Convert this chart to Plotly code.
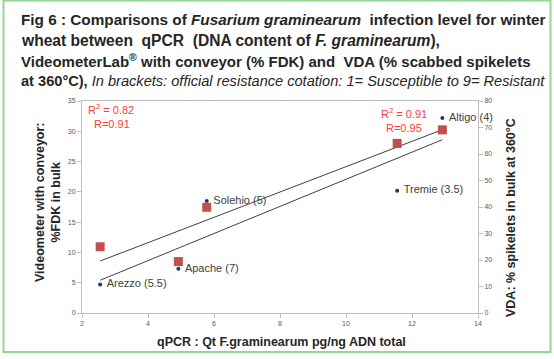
import numpy as np
import plotly.graph_objects as go

# ---- data ----
varieties = ["Arezzo (5.5)", "Apache (7)", "Solehio (5)", "Tremie (3.5)", "Altigo (4)"]
qpcr = [2.55, 4.92, 5.78, 11.55, 12.92]
fdk_videometer = [4.7, 7.3, 18.5, 20.2, 32.2]
vda_spikelets = [25.0, 19.4, 39.9, 64.0, 69.1]

x_ticks = [2, 4, 6, 8, 10, 12, 14]
y1_ticks = [0, 5, 10, 15, 20, 25, 30, 35]
y2_ticks = [0, 10, 20, 30, 40, 50, 60, 70, 80]

W, H = 554, 359
L, R, T, B = 82, 478, 101, 313


def px(x):
    return (x - L) / (R - L)


def py(y):
    return (B - y) / (B - T)


FONT = "Liberation Sans, Arial, sans-serif"
fig = go.Figure()

# trendlines from linear fits
xs = np.array([min(qpcr), max(qpcr)])
b1 = np.polyfit(qpcr, fdk_videometer, 1)
b2 = np.polyfit(qpcr, vda_spikelets, 1)
fig.add_trace(go.Scatter(x=xs, y=np.polyval(b1, xs), mode="lines",
                         line=dict(color="#404040", width=1), yaxis="y", hoverinfo="skip"))
fig.add_trace(go.Scatter(x=xs, y=np.polyval(b2, xs), mode="lines",
                         line=dict(color="#404040", width=1), yaxis="y2", hoverinfo="skip"))

fig.add_trace(go.Scatter(x=qpcr, y=vda_spikelets, mode="markers", yaxis="y2",
                         marker=dict(symbol="square", size=9, color="#C0504D")))
fig.add_trace(go.Scatter(x=qpcr, y=fdk_videometer, mode="markers+text", yaxis="y",
                         text=["\u00a0" + v for v in varieties], textposition="middle right",
                         cliponaxis=False,
                         textfont=dict(family=FONT, size=11, color="#404040"),
                         marker=dict(symbol="circle", size=4, color="#1F3864")))

axis_common = dict(showgrid=False, zeroline=False, showline=True, linecolor="#BFBFBF",
                   linewidth=1, ticks="outside", ticklen=4, tickcolor="#BFBFBF",
                   tickfont=dict(family=FONT, size=7, color="#595959"))

fig.update_layout(
    width=W, height=H,
    margin=dict(l=L, r=W - R, t=T, b=H - B, pad=0),
    paper_bgcolor="white", plot_bgcolor="white",
    showlegend=False,
    xaxis=dict(range=[2, 14], tickvals=x_ticks, mirror=True, **axis_common),
    yaxis=dict(range=[0, 35], tickvals=y1_ticks, **axis_common),
    yaxis2=dict(range=[0, 80], tickvals=y2_ticks, overlaying="y", side="right", **axis_common),
)

ann = []
lines = [
    (19, 15.3, "<b>Fig 6 : Comparisons of <i>Fusarium graminearum</i>\u00a0 infection level for winter</b>"),
    (40, 15.6, "<b>wheat between \u00a0qPCR \u00a0(DNA content of <i>F. graminearum</i>),</b>"),
    (60.5, 15.0, "<b>VideometerLab<sup>®</sup> with conveyor (% FDK) and \u00a0VDA (% scabbed spikelets</b>"),
    (81, 14.6, "<b>at 360°C),</b> <i>In brackets: official resistance cotation: 1= Susceptible to 9= Resistant</i>"),
]
for yy, fs, t in lines:
    ann.append(dict(xref="paper", yref="paper", x=px(19), y=py(yy), text=t, showarrow=False,
                    xanchor="left", yanchor="middle", align="left",
                    font=dict(family=FONT, size=fs, color="#262626")))

axis_title_font = dict(family=FONT, size=12.5, color="#262626")
ann.append(dict(xref="paper", yref="paper", x=px(48), y=py(202), textangle=-90,
                text="<b>Videometer with conveyor:<br>%FDK in bulk</b>", showarrow=False,
                xanchor="center", yanchor="middle", font=axis_title_font))
ann.append(dict(xref="paper", yref="paper", x=px(511), y=py(217), textangle=-90,
                text="<b>VDA: % spikelets in bulk at 360°C</b>", showarrow=False,
                xanchor="center", yanchor="middle", font=axis_title_font))
ann.append(dict(xref="paper", yref="paper", x=px(281), y=py(342),
                text="<b>qPCR : Qt F.graminearum pg/ng ADN total</b>", showarrow=False,
                xanchor="center", yanchor="middle", font=axis_title_font))

red_font = dict(family=FONT, size=11, color="#FF3B3B")
for cx, cy, t in [(111, 109, "R<sup>2</sup> = 0.82"), (112, 124, "R=0.91"),
                  (404, 113, "R<sup>2</sup> = 0.91"), (404, 128, "R=0.95")]:
    ann.append(dict(xref="paper", yref="paper", x=px(cx), y=py(cy), text=t, showarrow=False,
                    xanchor="center", yanchor="middle", font=red_font))

fig.update_layout(annotations=ann)

fig.add_shape(type="rect", xref="paper", yref="paper",
              x0=px(3.5), x1=px(550.5), y0=py(352), y1=py(0.5),
              line=dict(color="#92D792", width=2), fillcolor="rgba(0,0,0,0)", layer="below")

fig.write_html("out.html", config={"displayModeBar": False},
               post_script="document.body.style.margin='0';")
